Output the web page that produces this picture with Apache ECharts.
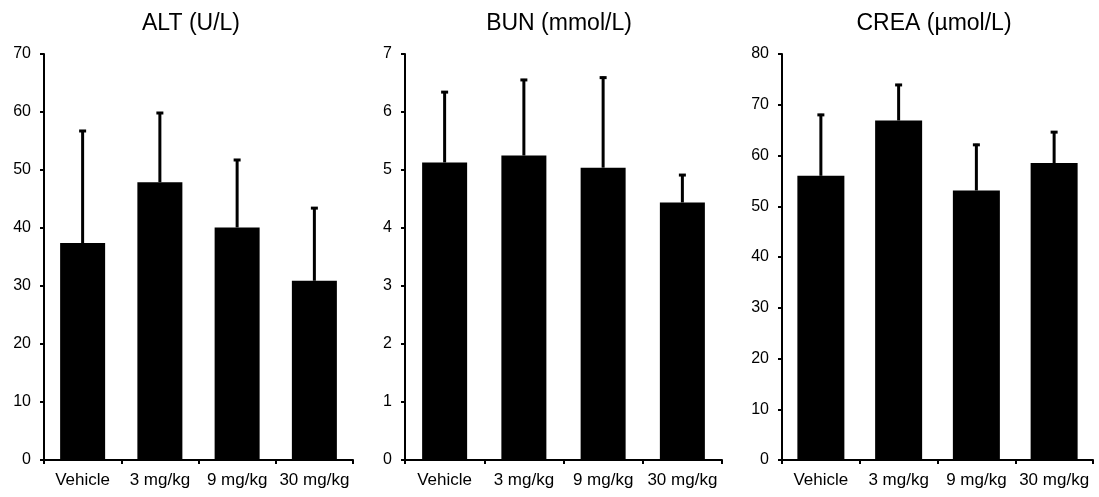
<!DOCTYPE html>
<html>
<head>
<meta charset="utf-8">
<script src="https://cdn.jsdelivr.net/npm/echarts@6/dist/echarts.min.js"></script>
<style>
html,body{margin:0;padding:0;background:#fff;}
#chart{width:1099px;height:497px;}
</style>
</head>
<body>
<div id="chart"></div>
<script>
const categories = ['Vehicle', '3 mg/kg', '9 mg/kg', '30 mg/kg'];
const panelTitles = ['ALT (U/L)', 'BUN (mmol/L)', 'CREA (\u00b5mol/L)'];

const altMean = [37.4, 47.9, 40.1, 30.9];
const altSD = [19.5, 12.1, 11.8, 12.7];
const bunMean = [5.13, 5.25, 5.04, 4.44];
const bunSD = [1.23, 1.32, 1.57, 0.49];
const creaMean = [56.0, 66.9, 53.1, 58.5];
const creaSD = [12.2, 7.2, 9.2, 6.3];

const yMax = [70, 7, 80];
const yInterval = [10, 1, 10];

const FONT = 'Liberation Sans, Arial, sans-serif';
const panels = [
  {mean: altMean, sd: altSD, left: 44, width: 309, barWidth: 45, titleX: 186},
  {mean: bunMean, sd: bunSD, left: 405, width: 317, barWidth: 45, titleX: 554},
  {mean: creaMean, sd: creaSD, left: 782, width: 311, barWidth: 47, titleX: 929}
];

const grids = [], xAxes = [], yAxes = [], series = [], titles = [];
panels.forEach((p, i) => {
  grids.push({left: p.left, width: p.width, top: 54, height: 406, containLabel: false});
  titles.push({
    text: panelTitles[i], left: p.titleX, top: 7, textAlign: 'center',
    textStyle: {fontFamily: FONT, fontSize: 23, fontWeight: 'normal', color: '#000'}
  });
  xAxes.push({
    type: 'category', gridIndex: i, data: categories, boundaryGap: true,
    axisLine: {show: true, lineStyle: {color: '#000', width: 2}},
    axisTick: {show: true, alignWithLabel: false, length: 4, lineStyle: {color: '#000', width: 2}},
    axisLabel: {color: '#000', fontFamily: FONT, fontSize: 17, margin: 12, interval: 0},
    splitLine: {show: false}
  });
  yAxes.push({
    type: 'value', gridIndex: i, min: 0, max: yMax[i], interval: yInterval[i],
    axisLine: {show: true, lineStyle: {color: '#000', width: 2}},
    axisTick: {show: true, length: 4, lineStyle: {color: '#000', width: 2}},
    axisLabel: {color: '#000', fontFamily: FONT, fontSize: 16, margin: 13},
    splitLine: {show: false}
  });
  series.push({
    type: 'bar', xAxisIndex: i, yAxisIndex: i, data: p.mean,
    barWidth: p.barWidth, itemStyle: {color: '#000'}, z: 2
  });
  series.push({
    type: 'custom', xAxisIndex: i, yAxisIndex: i,
    data: p.mean.map((m, k) => [k, m, m + p.sd[k]]),
    encode: {x: 0, y: [1, 2]},
    z: 3,
    renderItem: function (params, api) {
      const base = api.coord([api.value(0), api.value(1)]);
      const top = api.coord([api.value(0), api.value(2)]);
      const capHalf = 3.5;
      return {
        type: 'group',
        children: [
          {type: 'line', shape: {x1: base[0], y1: base[1], x2: top[0], y2: top[1]},
           style: {stroke: '#000', lineWidth: 3}},
          {type: 'line', shape: {x1: top[0] - capHalf, y1: top[1] + 1, x2: top[0] + capHalf, y2: top[1] + 1},
           style: {stroke: '#000', lineWidth: 3}}
        ]
      };
    }
  });
});

const chart = echarts.init(document.getElementById('chart'), null, {renderer: 'canvas'});
chart.setOption({
  animation: false,
  backgroundColor: '#fff',
  title: titles,
  grid: grids,
  xAxis: xAxes,
  yAxis: yAxes,
  series: series
});
</script>
</body>
</html>
